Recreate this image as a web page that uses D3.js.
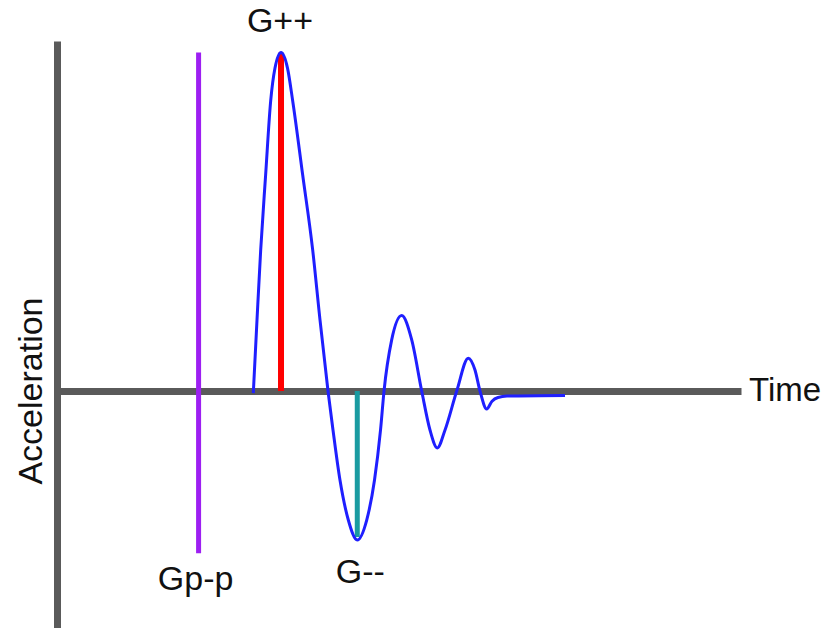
<!DOCTYPE html>
<html>
<head>
<meta charset="utf-8">
<script src="https://cdn.jsdelivr.net/npm/d3@7"></script>
<style>
  body { margin: 0; background: #fff; }
  text { font-family: "Liberation Sans", Arial, sans-serif; fill: #111; }
</style>
</head>
<body>
<div id="chart"></div>
<script>
// shock pulse (time in arbitrary units, acceleration relative to G++ = 10)
var time = [28.70, 29.24, 29.78, 30.50, 31.24, 31.87, 32.75, 33.70, 34.46, 35.92, 37.38, 38.45, 39.62,
	40.35, 41.37, 42.59, 43.90, 45.28, 46.42, 47.30, 47.81, 48.93, 50.39, 51.86, 53.32, 54.53, 55.60,
	56.73, 58.44, 60.13, 61.11, 61.84, 62.82, 63.60, 64.47, 65.79, 74.27];
var accel = [-0.06, 2.10, 4.17, 6.38, 8.57, 9.54, 10.00, 9.54, 8.57, 6.38, 4.17, 2.10, 0,
	-1.15, -2.63, -3.81, -4.40, -3.81, -2.63, -1.15, 0, 1.51, 2.23, 1.51, 0, -1.15, -1.68,
	-1.15, 0, 0.97, 0.62, 0, -0.53, -0.30, -0.19, -0.15, -0.13];

// marker lines: [time, from, to]
var gppMarker = [20.7, -4.79, 10.0];
var gPlusMarker = [32.75, 0, 9.99];
var gMinusMarker = [43.9, 0, -4.31];

var markerLabels = ['Gp-p', 'G++', 'G--'];
var axisLabels = ['Time', 'Acceleration'];

var width = 828, height = 628;
var svg = d3.select('#chart').append('svg').attr('width', width).attr('height', height);

var x = d3.scaleLinear().domain([0, 100]).range([57, 741]);
var y = d3.scaleLinear().domain([-7, 10.34]).range([628, 41]);

// axes, no ticks, just heavy grey lines
var xAxis = svg.append('g').attr('transform', 'translate(0,' + y(0) + ')')
	.call(d3.axisBottom(x).ticks(0).tickSizeOuter(0));
var yAxis = svg.append('g').attr('transform', 'translate(' + x(0) + ',0)')
	.call(d3.axisLeft(y).ticks(0).tickSizeOuter(0));
[xAxis, yAxis].forEach(function (a) {
	a.select('.domain').style('stroke', '#5a5a5a').style('stroke-width', 7);
});

function marker(m, color, w) {
	svg.append('line')
		.attr('x1', x(m[0])).attr('x2', x(m[0]))
		.attr('y1', y(m[1])).attr('y2', y(m[2]))
		.style('stroke', color).style('stroke-width', w);
}
marker(gppMarker, '#9d1ff2', 5);
marker(gPlusMarker, '#ff0000', 6);
marker(gMinusMarker, '#1a9ba1', 5);

var pts = time.map(function (t, i) { return [t, accel[i]]; });
var line = d3.line()
	.x(function (d) { return x(d[0]); })
	.y(function (d) { return y(d[1]); })
	.curve(d3.curveMonotoneX);

svg.append('path').datum(pts)
	.attr('d', line)
	.style('fill', 'none')
	.style('stroke', '#1f1fff')
	.style('stroke-width', 3);

svg.append('text').attr('x', x(gppMarker[0]) - 3).attr('y', y(gppMarker[1]) + 37)
	.attr('text-anchor', 'middle').style('font-size', '34px').text(markerLabels[0]);
svg.append('text').attr('x', x(gPlusMarker[0]) - 1).attr('y', y(gPlusMarker[2]) - 21)
	.attr('text-anchor', 'middle').style('font-size', '34px').text(markerLabels[1]);
svg.append('text').attr('x', x(gMinusMarker[0]) + 3).attr('y', y(gMinusMarker[2]) + 46)
	.attr('text-anchor', 'middle').style('font-size', '34px').text(markerLabels[2]);

svg.append('text').attr('x', x(100) + 8).attr('y', y(0) + 10)
	.style('font-size', '33px').text(axisLabels[0]);
svg.append('text').attr('transform', 'translate(42,' + y(0) + ') rotate(-90)')
	.attr('text-anchor', 'middle').style('font-size', '34px').text(axisLabels[1]);
</script>
</body>
</html>
